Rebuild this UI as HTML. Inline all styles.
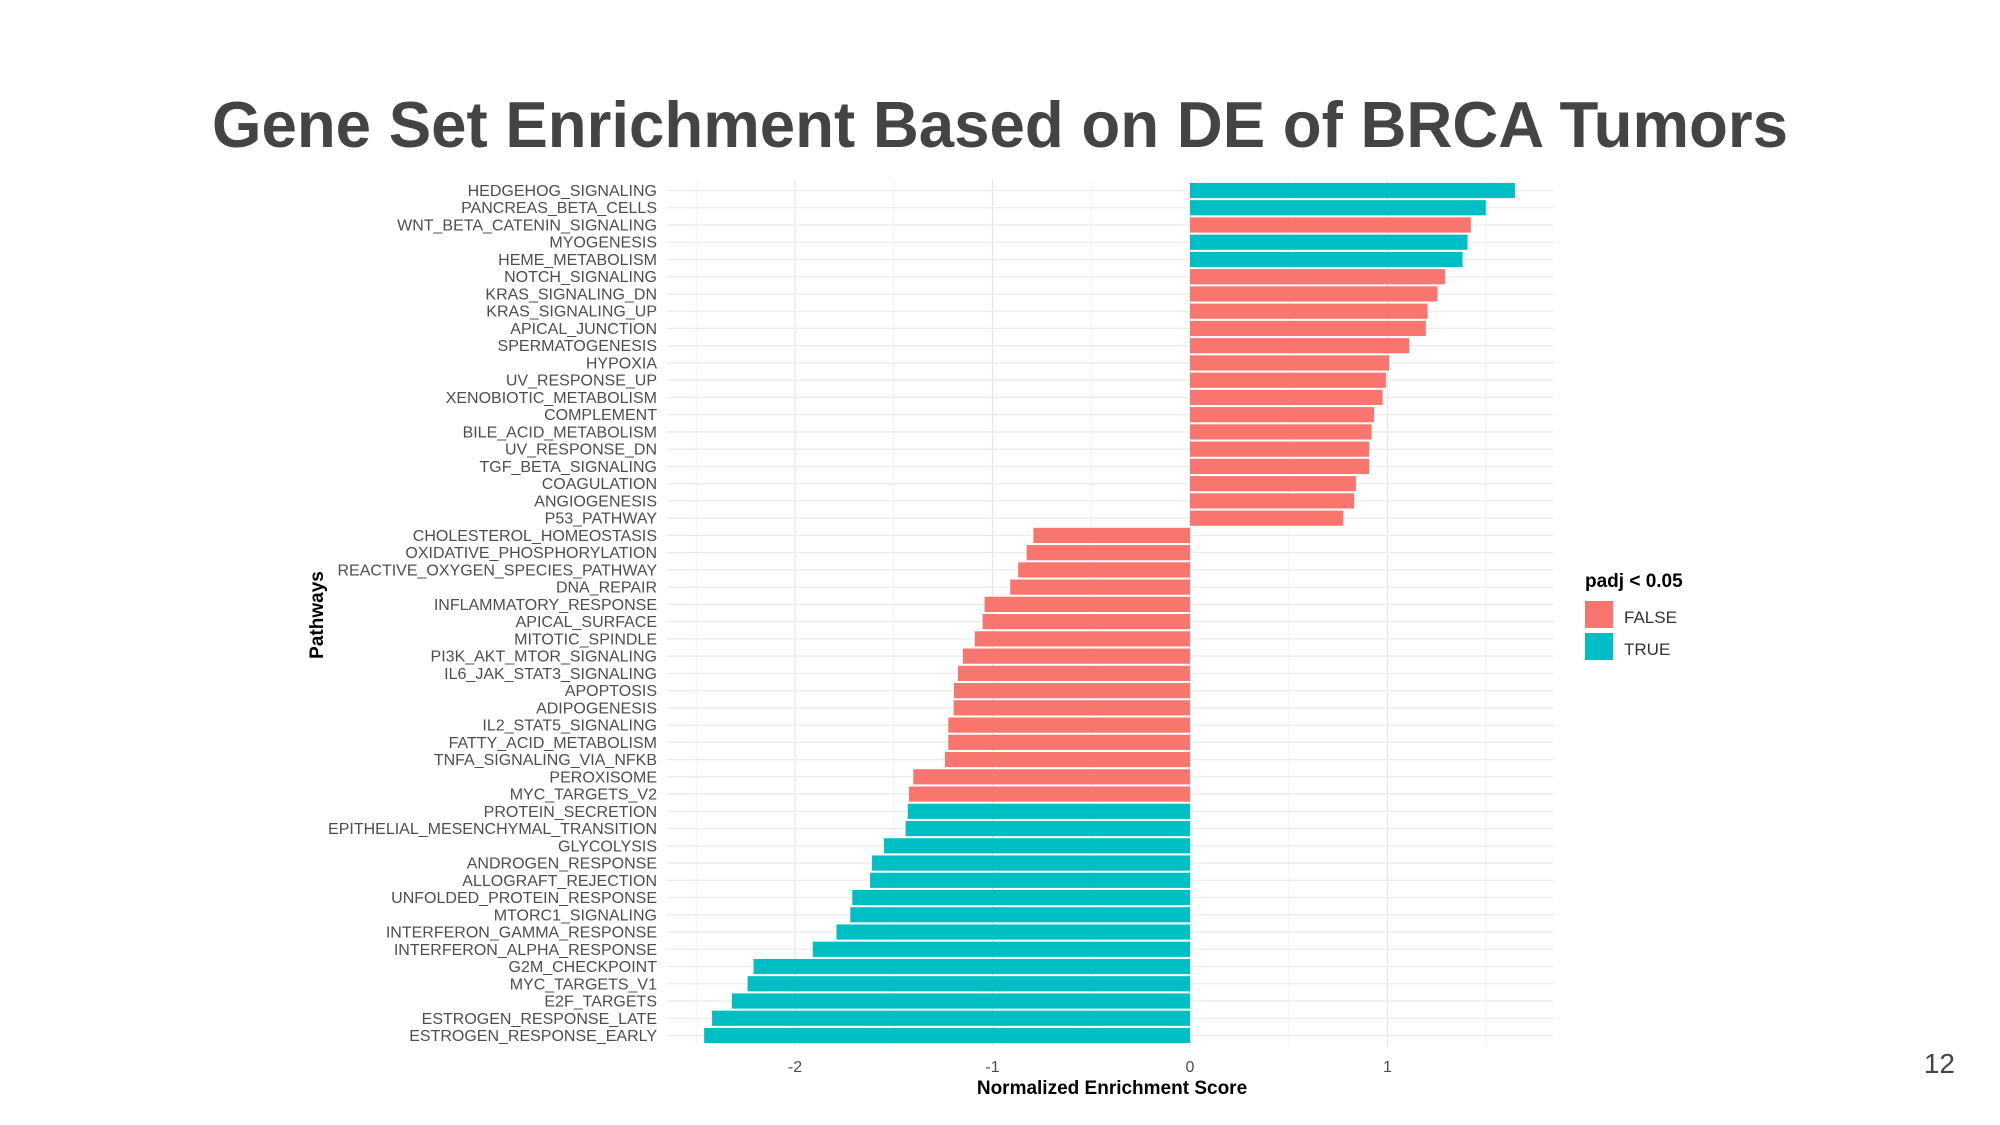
<!DOCTYPE html>
<html><head><meta charset="utf-8"><style>
body{margin:0;background:#fff;}
svg{display:block;font-family:"Liberation Sans",Arial,sans-serif;}
</style></head><body>
<svg id="chart" width="2000" height="1125" viewBox="0 0 2000 1125" xmlns="http://www.w3.org/2000/svg">
<rect width="2000" height="1125" fill="#fff"/>
<text x="212" y="147" font-size="65" font-weight="bold" fill="#444" textLength="1576" lengthAdjust="spacingAndGlyphs">Gene Set Enrichment Based on DE of BRCA Tumors</text>
<g id="grid"></g><g id="bars"></g><g id="labels"></g><g id="ticks"></g>
<text x="1112" y="1094" font-size="19" font-weight="bold" text-anchor="middle" fill="#000">Normalized Enrichment Score</text>
<text transform="translate(323,615) rotate(-90)" font-size="19" font-weight="bold" text-anchor="middle" fill="#000">Pathways</text>
<g>
<text x="1585" y="587" font-size="19" font-weight="bold" fill="#000">padj &lt; 0.05</text>
<rect x="1585" y="601" width="28" height="27" fill="#F8766D"/>
<text x="1624" y="623" font-size="17" fill="#333">FALSE</text>
<rect x="1585" y="633" width="28" height="27" fill="#00BFC4"/>
<text x="1624" y="655" font-size="17" fill="#333">TRUE</text>
</g>
<text x="1955" y="1073" font-size="28" text-anchor="end" fill="#444">12</text>
</svg>
<script>
const pathways=["HEDGEHOG_SIGNALING","PANCREAS_BETA_CELLS","WNT_BETA_CATENIN_SIGNALING","MYOGENESIS","HEME_METABOLISM","NOTCH_SIGNALING","KRAS_SIGNALING_DN","KRAS_SIGNALING_UP","APICAL_JUNCTION","SPERMATOGENESIS","HYPOXIA","UV_RESPONSE_UP","XENOBIOTIC_METABOLISM","COMPLEMENT","BILE_ACID_METABOLISM","UV_RESPONSE_DN","TGF_BETA_SIGNALING","COAGULATION","ANGIOGENESIS","P53_PATHWAY","CHOLESTEROL_HOMEOSTASIS","OXIDATIVE_PHOSPHORYLATION","REACTIVE_OXYGEN_SPECIES_PATHWAY","DNA_REPAIR","INFLAMMATORY_RESPONSE","APICAL_SURFACE","MITOTIC_SPINDLE","PI3K_AKT_MTOR_SIGNALING","IL6_JAK_STAT3_SIGNALING","APOPTOSIS","ADIPOGENESIS","IL2_STAT5_SIGNALING","FATTY_ACID_METABOLISM","TNFA_SIGNALING_VIA_NFKB","PEROXISOME","MYC_TARGETS_V2","PROTEIN_SECRETION","EPITHELIAL_MESENCHYMAL_TRANSITION","GLYCOLYSIS","ANDROGEN_RESPONSE","ALLOGRAFT_REJECTION","UNFOLDED_PROTEIN_RESPONSE","MTORC1_SIGNALING","INTERFERON_GAMMA_RESPONSE","INTERFERON_ALPHA_RESPONSE","G2M_CHECKPOINT","MYC_TARGETS_V1","E2F_TARGETS","ESTROGEN_RESPONSE_LATE","ESTROGEN_RESPONSE_EARLY"];
const nes=[1.645,1.498,1.422,1.405,1.380,1.291,1.253,1.203,1.194,1.110,1.008,0.992,0.975,0.932,0.920,0.907,0.907,0.840,0.831,0.776,-0.793,-0.827,-0.87,-0.91,-1.04,-1.05,-1.09,-1.15,-1.175,-1.195,-1.197,-1.224,-1.224,-1.241,-1.401,-1.423,-1.429,-1.44,-1.55,-1.61,-1.62,-1.71,-1.72,-1.79,-1.91,-2.21,-2.24,-2.32,-2.42,-2.46];
const significant=[1,1,0,1,1,0,0,0,0,0,0,0,0,0,0,0,0,0,0,0,0,0,0,0,0,0,0,0,0,0,0,0,0,0,0,0,1,1,1,1,1,1,1,1,1,1,1,1,1,1];
const xTicks=[-2,-1,0,1];
const xTickLabels=["-2","-1","0","1"];

const NS="http://www.w3.org/2000/svg";
const X0=1190,UNIT=197.5,XMIN=-2.65,XMAX=1.84,Y0=190.5,STEP=17.245,BH=15.2;
const PT=180,PB=1046;
const xs=v=>X0+v*UNIT;
const ys=i=>Y0+i*STEP;
function mk(tag,attrs,parent){const e=document.createElementNS(NS,tag);for(const k in attrs)e.setAttribute(k,attrs[k]);parent.appendChild(e);return e;}
const grid=document.getElementById('grid'),bars=document.getElementById('bars'),labels=document.getElementById('labels'),ticks=document.getElementById('ticks');
for(let v=-2.5;v<=1.5;v+=1){const l=mk('line',{x1:xs(v),x2:xs(v),y1:PT,y2:PB,stroke:'#f3f3f3','stroke-width':1},grid);

}
xTicks.forEach((v,i)=>{const l=mk('line',{x1:xs(v),x2:xs(v),y1:PT,y2:PB,stroke:'#e6e6e6','stroke-width':1.3},grid);


const t=mk('text',{x:xs(v),y:1072,'font-size':16,'text-anchor':'middle',fill:'#4d4d4d'},ticks);
t.textContent=xTickLabels[i];

});
pathways.forEach((p,i)=>{const y=ys(i);
const g=mk('line',{x1:xs(XMIN),x2:xs(XMAX),y1:y,y2:y,stroke:'#ebebeb','stroke-width':1.3},grid);


const v=nes[i];const x1=xs(Math.min(0,v)),x2=xs(Math.max(0,v));
const r=mk('rect',{x:x1,y:y-BH/2,width:x2-x1,height:BH,fill:significant[i]?'#00BFC4':'#F8766D'},bars);


const t=mk('text',{x:657,y:y+5.5,'font-size':16,'text-anchor':'end',fill:'#4d4d4d'},labels);
t.textContent=p;

});
</script>
</body></html>
